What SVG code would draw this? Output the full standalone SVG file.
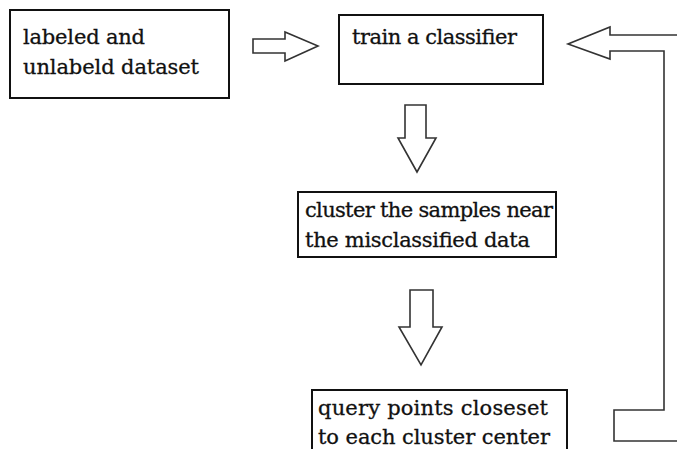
<svg xmlns="http://www.w3.org/2000/svg" width="677" height="449" viewBox="0 0 677 449">
<style>
.box{fill:#fff;stroke:#111;stroke-width:2}
.lbl{font-family:"DejaVu Serif","Liberation Serif",serif;font-size:21px;fill:#111;stroke:#111;stroke-width:0.3}
.arr{fill:#fff;stroke:#333;stroke-width:1.6;stroke-linejoin:miter}
</style>
<rect width="677" height="449" fill="#fff"/>
<g id="connectors">
<polygon class="arr" points="253,39 285,39 285,32 318,46 285,61 285,53 253,53"/>
<polygon class="arr" points="405,105 426,105 426,138 436,138 417,172 398,138 405,138"/>
<polygon class="arr" points="410,290 433,290 433,327 442,327 421,365 399,327 410,327"/>
<path class="arr" fill="none" d="M 680,35 L 610,35 L 610,27 L 568,44 L 610,59 L 610,51 L 664,51 L 664,410 L 614,410 L 614,441 L 680,441"/>
</g>
<g id="node-dataset">
<rect class="box" x="10" y="10" width="219" height="88"/>
<text class="lbl" x="23" y="43.5" textLength="122">labeled and</text>
<text class="lbl" x="23" y="73.5" textLength="176">unlabeld dataset</text>
</g>
<g id="node-train">
<rect class="box" x="339" y="15" width="204" height="69"/>
<text class="lbl" x="352" y="44" textLength="165">train a classifier</text>
</g>
<g id="node-cluster">
<rect class="box" x="298" y="192" width="258" height="65"/>
<text class="lbl" x="305" y="216.5" textLength="248">cluster the samples near</text>
<text class="lbl" x="305" y="246.5" textLength="225">the misclassified data</text>
</g>
<g id="node-query">
<rect class="box" x="312" y="390" width="255" height="70"/>
<text class="lbl" x="318" y="415" textLength="230">query points closeset</text>
<text class="lbl" x="318" y="443.5" textLength="232">to each cluster center</text>
</g>
</svg>
